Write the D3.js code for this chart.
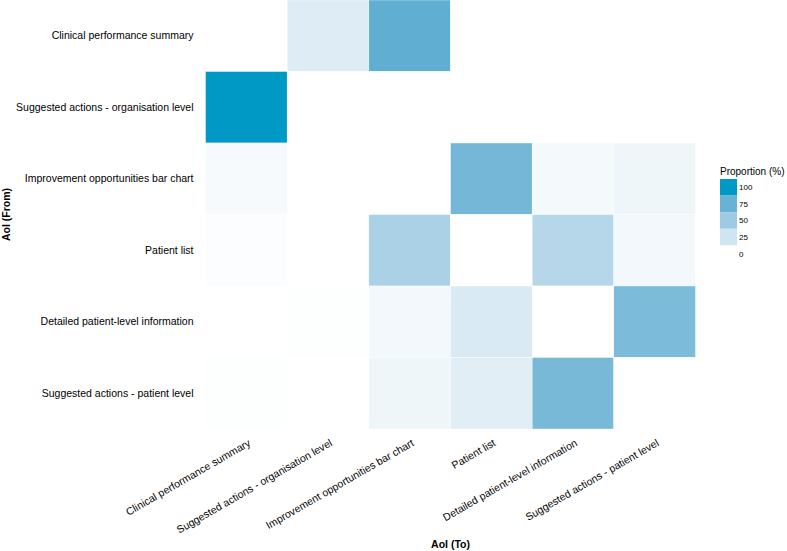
<!DOCTYPE html>
<html><head><meta charset="utf-8">
<script src="https://cdn.jsdelivr.net/npm/d3@7"></script>
<style>body{margin:0;background:#fff;} svg{display:block;font-family:"Liberation Sans",Arial,sans-serif;}</style>
</head><body>
<svg id="chart" width="787" height="551"></svg>
<script>
const aois = ["Clinical performance summary","Suggested actions - organisation level","Improvement opportunities bar chart","Patient list","Detailed patient-level information","Suggested actions - patient level"];
// proportions (%) from row (From) to column (To)
const fromCPS      = [0, 18, 78, 0, 0, 0];
const fromSAOrg    = [100, 0, 0, 0, 0, 0];
const fromImprove  = [5, 0, 0, 70, 6, 9];
const fromPatient  = [2, 0, 44, 0, 38, 7];
const fromDetailed = [0, 1, 7, 20, 0, 66];
const fromSAPat    = [1, 0, 9, 16, 68, 0];
const matrix = [fromCPS, fromSAOrg, fromImprove, fromPatient, fromDetailed, fromSAPat];
const legendBreaks = [100, 75, 50, 25, 0];

const svg = d3.select("#chart");
const x = d3.scaleBand().domain(aois).range([205.5, 695.5]).padding(0);
const y = d3.scaleBand().domain(aois).range([0, 429]).padding(0);
const color = d3.scaleLinear().domain([0,100]).range(["#ffffff","#0099c6"]).interpolate(d3.interpolateLab);

const cells = [];
matrix.forEach((row,i)=>row.forEach((v,j)=>cells.push({from:aois[i],to:aois[j],v})));
svg.append("g").selectAll("rect").data(cells).join("rect")
  .attr("x",d=>x(d.to)).attr("y",d=>y(d.from))
  .attr("width",x.bandwidth()).attr("height",y.bandwidth())
  .attr("fill",d=>color(d.v)).attr("stroke","#fff").attr("stroke-width",0.4);

// y axis labels
const yAxis = svg.append("g").attr("transform","translate(205.5,0)")
  .call(d3.axisLeft(y).tickSize(0).tickPadding(12));
yAxis.select(".domain").remove();
yAxis.selectAll("text").attr("font-size",10.5).attr("fill","#000").attr("font-family","Liberation Sans, Arial, sans-serif");

// x axis labels
const xAxis = svg.append("g").attr("transform","translate(0,429)")
  .call(d3.axisBottom(x).tickSize(0).tickPadding(0));
xAxis.select(".domain").remove();
xAxis.selectAll("text").attr("font-size",10.5).attr("fill","#000")
  .attr("font-family","Liberation Sans, Arial, sans-serif")
  .attr("text-anchor","end").attr("dy","0")
  .attr("transform","translate(5,16) rotate(-30)");

// axis titles
svg.append("text").attr("x",450.5).attr("y",548).attr("text-anchor","middle")
  .attr("font-size",10.5).attr("font-weight","bold").text("AoI (To)");
svg.append("text").attr("transform","translate(9.5,214.5) rotate(-90)").attr("text-anchor","middle")
  .attr("font-size",10.5).attr("font-weight","bold").text("AoI (From)");

// legend
const lg = svg.append("g").attr("transform","translate(720,0)");
lg.append("text").attr("x",0).attr("y",175).attr("font-size",10).text("Proportion (%)");
const ly = d3.scaleBand().domain(legendBreaks).range([179,262]);
lg.selectAll("rect").data(legendBreaks).join("rect")
  .attr("x",0).attr("y",d=>ly(d)).attr("width",17).attr("height",ly.bandwidth())
  .attr("fill",d=>color(d));
lg.selectAll("text.lab").data(legendBreaks).join("text").attr("class","lab")
  .attr("x",19).attr("y",d=>ly(d)+ly.bandwidth()/2).attr("dy","0.35em")
  .attr("font-size",8).text(d=>d);
</script>
</body></html>
